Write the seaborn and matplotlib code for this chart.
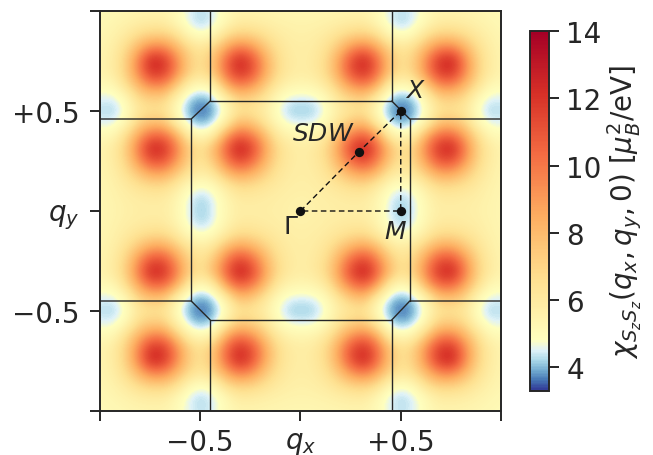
import numpy as np
import matplotlib
matplotlib.use("Agg")
import matplotlib.pyplot as plt
from matplotlib.colors import LinearSegmentedColormap, Normalize
import seaborn as sns

# chi values, quadrant qx, qy >= 0 on a 1/16 grid
# row = qy index, column = qx index, other quadrants are its mirror images
chi_quadrant = [
    [5.6, 5.6, 5.7, 5.8, 5.8, 5.8, 5.3, 4.5, 4.1, 4.5, 5.3, 5.8, 5.8, 5.8, 5.65, 5.45, 5.3],
    [5.6, 5.65, 5.8, 5.9, 6.0, 6.0, 5.4, 4.55, 4.2, 4.55, 5.4, 6.0, 6.0, 5.9, 5.75, 5.5, 5.3],
    [5.7, 5.8, 6.0, 6.35, 6.75, 6.9, 6.1, 5.1, 4.75, 5.1, 6.1, 6.85, 6.85, 6.5, 6.0, 5.6, 5.35],
    [5.8, 5.9, 6.35, 7.4, 8.5, 9.0, 8.1, 6.4, 5.8, 6.4, 7.6, 8.8, 8.8, 7.7, 6.55, 5.75, 5.4],
    [5.8, 6.0, 6.75, 8.5, 10.6, 11.6, 9.9, 7.6, 6.3, 7.1, 9.2, 11.2, 11.3, 9.3, 7.1, 5.9, 5.45],
    [5.8, 6.0, 6.9, 9.0, 11.6, 12.9, 10.6, 8.0, 6.4, 7.4, 9.8, 12.2, 12.6, 9.9, 7.3, 5.95, 5.45],
    [5.3, 5.4, 6.1, 8.1, 9.9, 10.6, 8.9, 5.8, 5.0, 5.8, 8.5, 10.3, 10.4, 8.7, 6.7, 5.2, 5.1],
    [4.5, 4.55, 5.1, 6.4, 7.6, 8.0, 5.8, 4.2, 3.9, 4.2, 5.6, 7.7, 7.8, 7.1, 5.2, 4.5, 4.55],
    [4.1, 4.2, 4.75, 5.8, 6.3, 6.4, 5.0, 3.9, 3.5, 3.9, 5.0, 6.4, 6.5, 6.1, 4.8, 4.2, 4.3],
    [4.5, 4.55, 5.1, 6.4, 7.1, 7.4, 5.8, 4.2, 3.9, 4.2, 5.5, 7.2, 7.3, 6.8, 5.2, 4.5, 4.55],
    [5.3, 5.4, 6.1, 7.6, 9.2, 9.8, 8.5, 5.6, 5.0, 5.5, 7.5, 9.5, 9.6, 8.2, 6.6, 5.2, 5.1],
    [5.8, 6.0, 6.85, 8.8, 11.2, 12.2, 10.3, 7.7, 6.4, 7.2, 9.5, 11.8, 12.1, 9.6, 7.25, 5.9, 5.45],
    [5.8, 6.0, 6.85, 8.8, 11.3, 12.6, 10.4, 7.8, 6.5, 7.3, 9.6, 12.1, 12.6, 9.7, 7.25, 5.9, 5.45],
    [5.8, 5.9, 6.5, 7.7, 9.3, 9.9, 8.7, 7.1, 6.1, 6.8, 8.2, 9.6, 9.7, 8.3, 6.75, 5.8, 5.4],
    [5.65, 5.75, 6.0, 6.55, 7.1, 7.3, 6.7, 5.2, 4.8, 5.2, 6.6, 7.25, 7.25, 6.75, 6.05, 5.55, 5.3],
    [5.45, 5.5, 5.6, 5.75, 5.9, 5.95, 5.2, 4.5, 4.2, 4.5, 5.2, 5.9, 5.9, 5.8, 5.55, 5.35, 5.2],
    [5.3, 5.3, 5.35, 5.4, 5.45, 5.45, 5.1, 4.55, 4.3, 4.55, 5.1, 5.45, 5.45, 5.4, 5.3, 5.2, 5.1],
]
chi_min = 3.3
chi_mid = 4.8
chi_max = 14.0

# path through the high symmetry points: Gamma, SDW, X, M, Gamma
path_qx = [0.0, 0.29, 0.5, 0.5, 0.0]
path_qy = [0.0, 0.295, 0.5, 0.0, 0.0]

# zone boundary pieces
bz_segments = [
    ([-0.45, -0.45, 0.455, 0.455], [1.0, 0.55, 0.55, 1.0]),
    ([-1.0, -0.545, -0.45], [0.46, 0.46, 0.55]),
    ([0.455, 0.545, 1.0], [0.55, 0.46, 0.46]),
    ([-0.545, -0.545], [0.46, -0.45]),
    ([0.545, 0.545], [0.46, -0.45]),
    ([-1.0, -0.545, -0.45], [-0.45, -0.45, -0.545]),
    ([1.0, 0.545, 0.455], [-0.45, -0.45, -0.545]),
    ([-0.45, -0.45, 0.455, 0.455], [-1.0, -0.545, -0.545, -1.0]),
]

tick_vals = [-1, -0.5, 0, 0.5, 1]
x_tick_labels = ["", "\N{MINUS SIGN}0.5", "$q_x$", "+0.5", ""]
y_tick_labels = ["", "\N{MINUS SIGN}0.5", "$q_y$", "+0.5", ""]
cbar_ticks = [4, 6, 8, 10, 12, 14]

sns.set_theme(style="ticks", rc={"axes.edgecolor": ".15", "xtick.color": ".15", "ytick.color": ".15"})
dark = "#262626"

# RdYlBu_r, but the pale middle sits at chi_mid so only the dips are blue
base = sns.color_palette("RdYlBu_r", as_cmap=True)
mid_pos = (chi_mid - chi_min) / (chi_max - chi_min)
stops = [(p, base(0.5 * p / mid_pos)) for p in np.linspace(0, mid_pos, 64)]
stops += [(p, base(0.5 + 0.5 * (p - mid_pos) / (1 - mid_pos))) for p in np.linspace(mid_pos, 1, 192)[1:]]
cmap = LinearSegmentedColormap.from_list("chi", stops, N=256)

quad = np.array(chi_quadrant)
top = np.hstack([quad[:, :0:-1], quad])
chi = np.vstack([top[:0:-1], top])

W, H = 653, 456
fig = plt.figure(figsize=(W / 100, H / 100), dpi=100)
ax = fig.add_axes([100 / W, (H - 412) / H, 401 / W, 400 / H])

# the picture's pattern sits about one pixel right of and above the axes centre
half = 1 / 32
dx, dy = 0.006, 0.005
im = ax.imshow(chi, origin="lower", extent=[-1 - half + dx, 1 + half + dx, -1 - half + dy, 1 + half + dy],
               cmap=cmap, norm=Normalize(chi_min, chi_max), interpolation="bicubic", aspect="auto")

for xs, ys in bz_segments:
    ax.plot(xs, ys, color=dark, lw=1.0, zorder=3)

sns.lineplot(x=path_qx, y=path_qy, sort=False, estimator=None, color="#111111", lw=1.0,
             linestyle=(0, (4, 2.5)), ax=ax, zorder=4)
sns.scatterplot(x=path_qx[:4], y=path_qy[:4], color="#111111", s=45, linewidth=0, ax=ax, zorder=5)

ax.set_xlim(-1, 1)
ax.set_ylim(-1, 1)
ax.set_xticks(tick_vals)
ax.set_xticklabels(x_tick_labels, fontsize=20)
ax.set_yticks(tick_vals)
ax.set_yticklabels(y_tick_labels, fontsize=20)
ax.tick_params(axis="x", length=7.5, width=1.4, color=dark, labelcolor=dark, pad=5)
ax.tick_params(axis="y", length=7.5, width=1.4, color=dark, labelcolor=dark, pad=7)
for s in ax.spines.values():
    s.set_linewidth(1.4)
    s.set_color(dark)

ax.text(-0.05, -0.075, r"$\Gamma$", fontsize=18, color=dark, ha="center", va="center")
ax.text(0.475, -0.10, r"$M$", fontsize=18, color=dark, ha="center", va="center")
ax.text(0.575, 0.605, r"$X$", fontsize=18, color=dark, ha="center", va="center")
ax.text(0.115, 0.39, r"$SDW$", fontsize=18, color=dark, ha="center", va="center")

cax = fig.add_axes([530 / W, (H - 392) / H, 19 / W, 360 / H])
cbar = fig.colorbar(im, cax=cax)
cbar.set_ticks(cbar_ticks)
cbar.ax.tick_params(length=7.5, width=1.4, color=dark, labelcolor=dark, labelsize=20, pad=5)
cbar.outline.set_linewidth(1.4)
cbar.outline.set_edgecolor(dark)
cbar.set_label(r"$\chi_{S_zS_z}(q_x, q_y, 0)\ [\mu_B^2/\mathrm{eV}]$", fontsize=20, color=dark, labelpad=3)

fig.savefig("out.png", dpi=100)
